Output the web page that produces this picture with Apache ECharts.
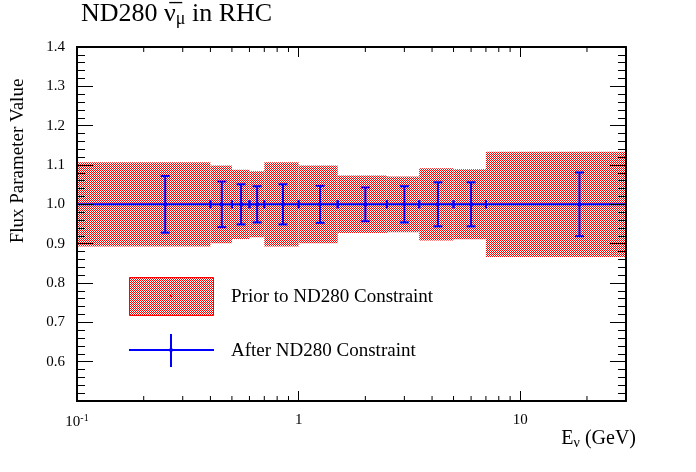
<!DOCTYPE html>
<html lang="en">
<head>
<meta charset="UTF-8">
<title>ND280 anti-numu in RHC</title>
<script src="https://cdn.jsdelivr.net/npm/echarts@6/dist/echarts.min.js"></script>
<style>html,body{margin:0;padding:0;background:#fff;}</style>
</head>
<body>
<div id="main" style="width:696px;height:472px;"></div>
<script>
// flux bins in GeV (first bin clipped at the axis edge)
var binEdges = [0.1, 0.4, 0.5, 0.6, 0.7, 1.0, 1.5, 2.5, 3.5, 5.0, 7.0, 30];
// prior (before ND280) value and 1 sigma band
var priorValue = [1.0, 1.0, 1.0, 1.0, 1.0, 1.0, 1.0, 1.0, 1.0, 1.0, 1.0];
var priorError = [0.107, 0.099, 0.088, 0.084, 0.107, 0.099, 0.073, 0.071, 0.092, 0.089, 0.134];
// after ND280 constraint
var postEnergy = [0.25, 0.45, 0.55, 0.65, 0.85, 1.25, 2.0, 3.0, 4.25, 6.0, 18.5];
var postValue = [1.0, 1.0, 1.0, 1.0, 1.0, 1.0, 1.0, 1.0, 1.0, 1.0, 1.0];
var postError = [0.072, 0.058, 0.051, 0.046, 0.051, 0.047, 0.043, 0.046, 0.056, 0.056, 0.081];
// log axis minor ticks
var minorTicksX = [0.2, 0.3, 0.4, 0.5, 0.6, 0.7, 0.8, 0.9, 2, 3, 4, 5, 6, 7, 8, 9, 20];
var yMin = 0.5, yMax = 1.4, yStep = 0.1;

var FONT = "'Liberation Serif', 'DejaVu Serif', serif";

// ROOT fill style 3001: fine red checker
var hatch = document.createElement('canvas');
hatch.width = 2;
hatch.height = 2;
var hctx = hatch.getContext('2d');
hctx.fillStyle = '#ff0000';
hctx.fillRect(0, 0, 1, 1);
hctx.fillRect(1, 1, 1, 1);
var hatchFill = {image: hatch, repeat: 'repeat'};

var priorData = [];
var postData = [];
for (var i = 0; i < priorError.length; i++) {
    priorData.push([binEdges[i], binEdges[i + 1], priorValue[i], priorError[i]]);
    postData.push([postEnergy[i], binEdges[i], binEdges[i + 1], postValue[i], postError[i]]);
}

function renderPrior(params, api) {
    var p0 = api.coord([api.value(0), api.value(2) + api.value(3)]);
    var p1 = api.coord([api.value(1), api.value(2) - api.value(3)]);
    return {
        type: 'rect',
        shape: {x: p0[0], y: p0[1], width: p1[0] - p0[0], height: p1[1] - p0[1]},
        style: {fill: hatchFill}
    };
}

function renderPost(params, api) {
    var x = api.value(0), y = api.value(3), e = api.value(4);
    var c = api.coord([x, y]);
    var lo = api.coord([api.value(1), y]);
    var hi = api.coord([api.value(2), y]);
    var top = api.coord([x, y + e]);
    var bot = api.coord([x, y - e]);
    var st = {stroke: '#0000ff', lineWidth: 2};
    var cap = 4.5;
    return {
        type: 'group',
        children: [
            {type: 'line', shape: {x1: lo[0], y1: c[1], x2: hi[0], y2: c[1]}, style: st},
            {type: 'line', shape: {x1: lo[0], y1: c[1] - 4, x2: lo[0], y2: c[1] + 4}, style: st},
            {type: 'line', shape: {x1: hi[0], y1: c[1] - 4, x2: hi[0], y2: c[1] + 4}, style: st},
            {type: 'line', shape: {x1: c[0], y1: top[1], x2: c[0], y2: bot[1]}, style: st},
            {type: 'line', shape: {x1: c[0] - cap, y1: top[1], x2: c[0] + cap, y2: top[1]}, style: st},
            {type: 'line', shape: {x1: c[0] - cap, y1: bot[1], x2: c[0] + cap, y2: bot[1]}, style: st},
            {type: 'circle', shape: {cx: c[0], cy: c[1], r: 2}, style: {fill: '#0000ff'}}
        ]
    };
}

function renderMinor(params, api) {
    var b = api.coord([api.value(0), yMin]);
    var t = api.coord([api.value(0), yMax]);
    var st = {stroke: '#000', lineWidth: 1};
    return {
        type: 'group',
        children: [
            {type: 'line', shape: {x1: b[0], y1: b[1], x2: b[0], y2: b[1] - 5}, style: st},
            {type: 'line', shape: {x1: t[0], y1: t[1], x2: t[0], y2: t[1] + 5}, style: st}
        ]
    };
}

function xLabel(v) {
    if (Math.abs(v - 0.1) < 1e-9) return '10{sup|-1}';
    if (Math.abs(v - 1) < 1e-9) return '1';
    if (Math.abs(v - 10) < 1e-9) return '10';
    return '';
}

var axisLine = {show: true, lineStyle: {color: '#000', width: 2}};

var chart = echarts.init(document.getElementById('main'));
chart.setOption({
    backgroundColor: '#fff',
    animation: false,
    grid: {left: 77, right: 70, top: 47, bottom: 71},
    xAxis: [{
        type: 'log', logBase: 10, min: 0.1, max: 30, position: 'bottom', z: 5,
        axisLine: axisLine,
        axisTick: {inside: true, length: 10, lineStyle: {color: '#000', width: 1}},
        splitLine: {show: false},
        axisLabel: {
            margin: 12, color: '#000', fontFamily: FONT, fontSize: 15,
            showMaxLabel: false, formatter: xLabel,
            rich: {sup: {fontFamily: FONT, fontSize: 10, padding: [0, 0, 9, 0]}}
        }
    }, {
        type: 'log', logBase: 10, min: 0.1, max: 30, position: 'top', z: 5,
        axisLine: axisLine,
        axisTick: {inside: true, length: 10, lineStyle: {color: '#000', width: 1}},
        splitLine: {show: false},
        axisLabel: {show: false}
    }],
    yAxis: [{
        type: 'value', min: yMin, max: yMax, interval: yStep, position: 'left', z: 5,
        axisLine: axisLine,
        axisTick: {inside: true, length: 16, lineStyle: {color: '#000', width: 1}},
        minorTick: {show: true, splitNumber: 5, length: 8, lineStyle: {color: '#000', width: 1}},
        splitLine: {show: false},
        axisLabel: {
            margin: 12, color: '#000', fontFamily: FONT, fontSize: 15,
            formatter: function (v) { return Math.abs(v - yMin) < 1e-6 ? '' : v.toFixed(1); }
        }
    }, {
        type: 'value', min: yMin, max: yMax, interval: yStep, position: 'right', z: 5,
        axisLine: axisLine,
        axisTick: {inside: true, length: 16, lineStyle: {color: '#000', width: 1}},
        minorTick: {show: true, splitNumber: 5, length: 8, lineStyle: {color: '#000', width: 1}},
        splitLine: {show: false},
        axisLabel: {show: false}
    }],
    series: [{
        name: 'Prior to ND280 Constraint',
        type: 'custom',
        renderItem: renderPrior,
        encode: {x: [0, 1], y: [2]},
        data: priorData,
        z: 2,
        silent: true
    }, {
        name: 'After ND280 Constraint',
        type: 'custom',
        renderItem: renderPost,
        encode: {x: [0, 1, 2], y: [3]},
        data: postData,
        z: 3,
        silent: true
    }, {
        type: 'custom',
        renderItem: renderMinor,
        encode: {x: 0},
        data: minorTicksX.map(function (v) { return [v]; }),
        z: 6,
        silent: true
    }],
    graphic: [{
        type: 'text', left: 81, top: 1,
        style: {
            text: 'ND280 {nu|\u03bd\u0305}{sub|\u03bc} in RHC',
            fill: '#000', font: '26px ' + FONT,
            rich: {
                nu: {fontFamily: FONT, fontSize: 26},
                sub: {fontFamily: FONT, fontSize: 18, padding: [11, 0, 0, 0]}
            }
        }
    }, {
        type: 'text', x: 18, y: 161, rotation: Math.PI / 2,
        style: {
            text: 'Flux Parameter Value', fill: '#000', font: '19px ' + FONT,
            align: 'center', verticalAlign: 'middle'
        }
    }, {
        type: 'text', x: 636, y: 439,
        style: {
            text: 'E{sub|\u03bd} (GeV)', fill: '#000', font: '20px ' + FONT,
            align: 'right', verticalAlign: 'middle',
            rich: {sub: {fontFamily: FONT, fontSize: 14, padding: [9, 0, 0, 0]}}
        }
    }, {
        type: 'rect', shape: {x: 129.5, y: 277.5, width: 84, height: 38},
        style: {fill: hatchFill, stroke: '#ff0000', lineWidth: 1}
    }, {
        type: 'circle', shape: {cx: 171, cy: 296, r: 1.2}, style: {fill: '#ff0000'}
    }, {
        type: 'line', shape: {x1: 129, y1: 350, x2: 214, y2: 350},
        style: {stroke: '#0000ff', lineWidth: 2}
    }, {
        type: 'line', shape: {x1: 171, y1: 334, x2: 171, y2: 367},
        style: {stroke: '#0000ff', lineWidth: 2}
    }, {
        type: 'circle', shape: {cx: 171, cy: 350, r: 2}, style: {fill: '#0000ff'}
    }, {
        type: 'text', x: 231, y: 297,
        style: {text: 'Prior to ND280 Constraint', fill: '#000', font: '19px ' + FONT, verticalAlign: 'middle'}
    }, {
        type: 'text', x: 231, y: 351,
        style: {text: 'After ND280 Constraint', fill: '#000', font: '19px ' + FONT, verticalAlign: 'middle'}
    }]
});
</script>
</body>
</html>
